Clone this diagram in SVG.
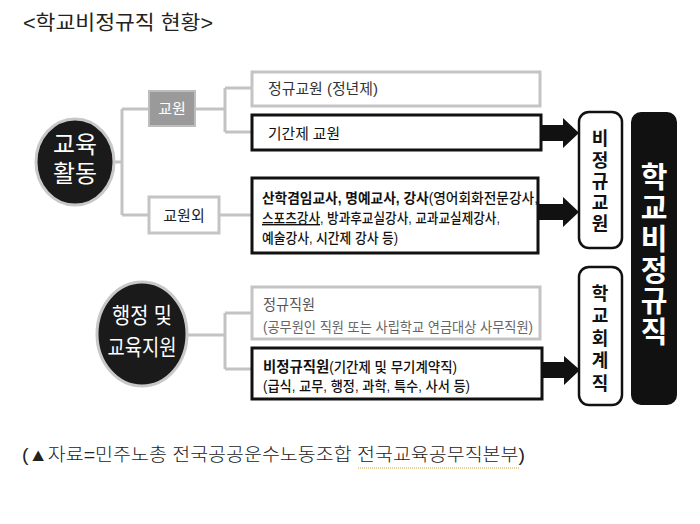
<svg xmlns="http://www.w3.org/2000/svg" width="700" height="524" viewBox="0 0 700 524">
<style>
text{font-family:"Liberation Sans","Noto Sans CJK KR",sans-serif;}
.gbox{fill:#fff;stroke:#c4c4c4;stroke-width:3;}
.bbox{fill:#fff;stroke:#111;stroke-width:3;}
.rbox{fill:#fff;stroke:#111;stroke-width:2.5;}
.oval{fill:#1a1a1a;stroke:#c8c8c8;stroke-width:3;}
.conn{fill:none;stroke:#c3c3c3;stroke-width:3;}
.arrow{fill:#111;}
.wt{fill:#fff;text-anchor:middle;}
.vt{fill:#111;font-weight:700;font-size:18px;text-anchor:middle;}
.bt{fill:#fff;font-weight:700;font-size:29px;text-anchor:middle;}
</style>
<rect width="700" height="524" fill="#fff"/>
<text id="title" x="23" y="30" font-size="20" fill="#222" textLength="190" lengthAdjust="spacingAndGlyphs">&lt;학교비정규직 현황&gt;</text>

<g id="connectors">
<path class="conn" d="M115,162 H122 M122,109 V215 M122,109 H149 M122,215 H149 M195,109 H225 M225,88 V132 M225,88 H252 M225,132 H252 M219,215 H252"/>
<path class="conn" d="M187,335 H225 M225,313 V369 M225,313 H252 M225,369 H252"/>
<polygon class="arrow" points="540,125 563,125 563,118 579,133 563,148 563,141 540,141"/>
<polygon class="arrow" points="538,204 563,204 563,197 579,212 563,227 563,220 538,220"/>
<polygon class="arrow" points="542,362 564,362 564,356 580,370 564,385 564,378 542,378"/>
</g>

<g id="edu-activity">
<ellipse class="oval" cx="75" cy="162" rx="39" ry="43"/>
<text class="wt" x="75" y="153" font-size="24" textLength="44" lengthAdjust="spacingAndGlyphs">교육</text>
<text class="wt" x="75" y="182" font-size="24" textLength="44" lengthAdjust="spacingAndGlyphs">활동</text>
</g>

<g id="admin-support">
<ellipse class="oval" cx="142" cy="334" rx="45" ry="52"/>
<text class="wt" x="142" y="323" font-size="22" textLength="60" lengthAdjust="spacingAndGlyphs">행정 및</text>
<text class="wt" x="142" y="355" font-size="22" textLength="69" lengthAdjust="spacingAndGlyphs">교육지원</text>
</g>

<g id="teacher">
<rect x="149" y="91" width="46" height="35" fill="#9a9a9a" stroke="#bdbdbd" stroke-width="2"/>
<text class="wt" x="172" y="114" font-size="15">교원</text>
</g>

<g id="non-teacher">
<rect class="gbox" x="149" y="197" width="70" height="36"/>
<text x="184" y="221" font-size="15" fill="#222" text-anchor="middle">교원외</text>
</g>

<g id="regular-teacher">
<rect class="gbox" x="252" y="72" width="288" height="34"/>
<text x="268" y="94" font-size="15" fill="#333" textLength="110" lengthAdjust="spacingAndGlyphs">정규교원 (정년제)</text>
</g>

<g id="contract-teacher">
<rect class="bbox" x="252" y="115" width="289" height="35"/>
<text x="268" y="139" font-size="15" fill="#111" textLength="72" lengthAdjust="spacingAndGlyphs">기간제 교원</text>
</g>

<g id="instructors">
<rect class="bbox" x="252" y="178" width="286" height="75"/>
<text x="262" y="203" font-size="14" fill="#111" textLength="276" lengthAdjust="spacingAndGlyphs"><tspan font-weight="700">산학겸임교사, 명예교사, 강사</tspan><tspan font-weight="500">(영어회화전문강사,</tspan></text>
<text x="262" y="223" font-size="14" fill="#111" font-weight="500" textLength="238" lengthAdjust="spacingAndGlyphs"><tspan text-decoration="underline">스포츠강사</tspan>, 방과후교실강사, 교과교실제강사,</text>
<text x="262" y="243" font-size="14" fill="#111" font-weight="500" textLength="136" lengthAdjust="spacingAndGlyphs">예술강사, 시간제 강사 등)</text>
</g>

<g id="regular-staff">
<rect class="gbox" x="252" y="287" width="288" height="52"/>
<text x="263" y="310" font-size="15" fill="#555" textLength="52" lengthAdjust="spacingAndGlyphs">정규직원</text>
<text x="263" y="332" font-size="14" fill="#666" textLength="270" lengthAdjust="spacingAndGlyphs">(공무원인 직원 또는 사립학교 연금대상 사무직원)</text>
</g>

<g id="nonregular-staff">
<rect class="bbox" x="252" y="348" width="290" height="51"/>
<text x="263" y="372" font-size="15" fill="#111" textLength="194" lengthAdjust="spacingAndGlyphs"><tspan font-weight="700">비정규직원</tspan><tspan font-weight="500" font-size="14">(기간제 및 무기계약직)</tspan></text>
<text x="263" y="391" font-size="14" fill="#111" font-weight="500" textLength="207" lengthAdjust="spacingAndGlyphs">(급식, 교무, 행정, 과학, 특수, 사서 등)</text>
</g>

<g id="nonregular-teacher">
<rect class="rbox" x="579" y="112" width="43" height="136" rx="10"/>
<text class="vt"><tspan x="600" y="145">비</tspan><tspan x="600" y="167">정</tspan><tspan x="600" y="188">규</tspan><tspan x="600" y="209">교</tspan><tspan x="600" y="230">원</tspan></text>
</g>

<g id="school-accounting">
<rect class="rbox" x="579" y="267" width="43" height="138" rx="10"/>
<text class="vt"><tspan x="600" y="300">학</tspan><tspan x="600" y="322">교</tspan><tspan x="600" y="345">회</tspan><tspan x="600" y="367">계</tspan><tspan x="600" y="390">직</tspan></text>
</g>

<g id="school-nonregular">
<rect x="631" y="112" width="46" height="293" rx="10" fill="#111"/>
<text class="bt"><tspan x="654" y="188">학</tspan><tspan x="654" y="219">교</tspan><tspan x="654" y="250">비</tspan><tspan x="654" y="281">정</tspan><tspan x="654" y="312">규</tspan><tspan x="654" y="343">직</tspan></text>
</g>

<text id="source" x="22" y="461" font-size="18" fill="#222" font-weight="300" textLength="503" lengthAdjust="spacingAndGlyphs">(▲자료=민주노총 전국공공운수노동조합 전국교육공무직본부)</text>
<line x1="358" y1="468" x2="520" y2="468" stroke="#d4a040" stroke-width="1" stroke-dasharray="1,1"/>
</svg>
